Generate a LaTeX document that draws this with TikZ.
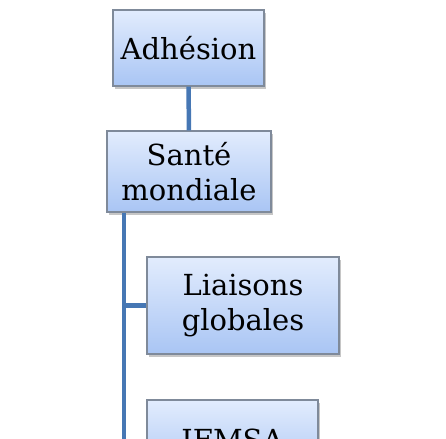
\documentclass[tikz,border=0pt]{standalone}
\usepackage{fontspec}
\setmainfont{DejaVu Serif}
\usetikzlibrary{positioning,shadows}
\definecolor{orgline}{HTML}{4677B4}
\definecolor{orgtop}{HTML}{E2ECFD}
\definecolor{orgbot}{HTML}{A9C5F4}
\definecolor{orgdraw}{HTML}{7F8A9A}

\begin{document}
\begin{tikzpicture}[
    x=1pt,y=-1pt,
    every node/.style={font=\fontsize{29}{35}\selectfont,align=center},
    unit/.style={draw=orgdraw,line width=1.2pt,top color=orgtop,bottom color=orgbot,
                 inner sep=0pt,drop shadow={shadow xshift=2pt,shadow yshift=-3pt,opacity=0.45}},
    link/.style={draw=orgline,line width=4.5pt}
]
\useasboundingbox (0,0) rectangle (446,438);
\clip (0,0) rectangle (446,438);
% tree of units
\node[unit,minimum width=151pt,minimum height=76pt] (adhesion) at (188.5,48) {Adhésion};
\node[unit,minimum width=164pt,minimum height=81pt] (sante) at (189,171.5) {Santé\\mondiale};
\node[unit,minimum width=192pt,minimum height=97pt] (liaisons) at (243,305.5) {Liaisons\\globales};
\node[unit,minimum width=171pt,minimum height=80pt] (ifmsa) at (232.5,440) {IFMSA};
\coordinate (trunk) at (124,445);
% connectors
\draw[link] (adhesion) -- (sante);
\draw[link] (sante.south -| trunk) -- (trunk);
\draw[link] (liaisons.west -| trunk) -- (liaisons.west);
\end{tikzpicture}
\end{document}
